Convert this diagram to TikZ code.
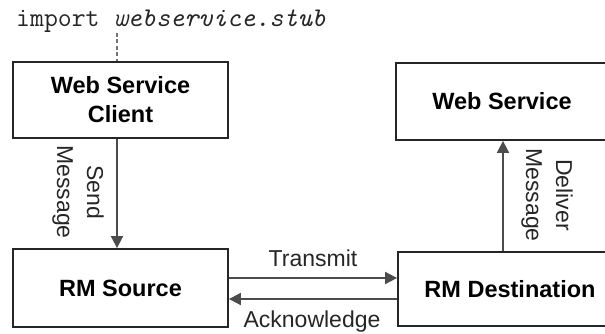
\documentclass[tikz,border=0pt]{standalone}
\usepackage{fontspec}
\setmainfont{Liberation Sans}
\usetikzlibrary{arrows.meta}
\begin{document}
\begin{tikzpicture}[x=1pt,y=-1pt,
  box/.style={draw=black!85,line width=1.8pt,fill=white,inner sep=0pt,
    font=\fontsize{23.5}{29}\selectfont\bfseries,align=center},
  arr/.style={draw=black!70,line width=1.7pt,-{Triangle[length=12pt,width=12pt]}},
  lbl/.style={font=\fontsize{23}{30}\selectfont,text=black!85,align=center,inner sep=0pt},
  dashline/.style={draw=black!55,line width=2pt,dash pattern=on 4pt off 2.5pt}]
\useasboundingbox (0,0) rectangle (605,334);
\node[box,minimum width=215pt,minimum height=76pt] (wsc) at (120.5,100) {Web Service\\Client};
\node[box,minimum width=215pt,minimum height=78pt] (rms) at (120.5,288) {RM Source};
\node[box,minimum width=212pt,minimum height=77pt] (ws) at (502,101.5) {Web Service};
\node[box,minimum width=224pt,minimum height=74pt] (rmd) at (510,289) {RM Destination};
\node[font=\fontsize{27}{30}\selectfont\ttfamily,text=black!85,anchor=base west,inner sep=0pt] (imp) at (16,27) {import \textit{webservice.stub}};
\coordinate (sx) at (117,0);
\coordinate (dx) at (503,0);
\coordinate (ty) at (0,278);
\coordinate (ay) at (0,299);
\coordinate (dtop) at (117,33);
\draw[dashline] (dtop) -- (wsc.north -| dtop);
\draw[arr] (wsc.south -| sx) -- (rms.north -| sx);
\draw[arr] (rmd.north -| dx) -- (ws.south -| dx);
\draw[arr] (rms.east |- ty) -- (rmd.west |- ty);
\draw[arr] (rmd.west |- ay) -- (rms.east |- ay);
\node[lbl,rotate=-90] (sm) at (78,192) {Send\\Message};
\node[lbl,rotate=-90] (dm) at (547,195) {Deliver\\Message};
\node[lbl] (tr) at (313,258) {Transmit};
\node[lbl] (ack) at (312,322) {Acknowledge};
\end{tikzpicture}
\end{document}
